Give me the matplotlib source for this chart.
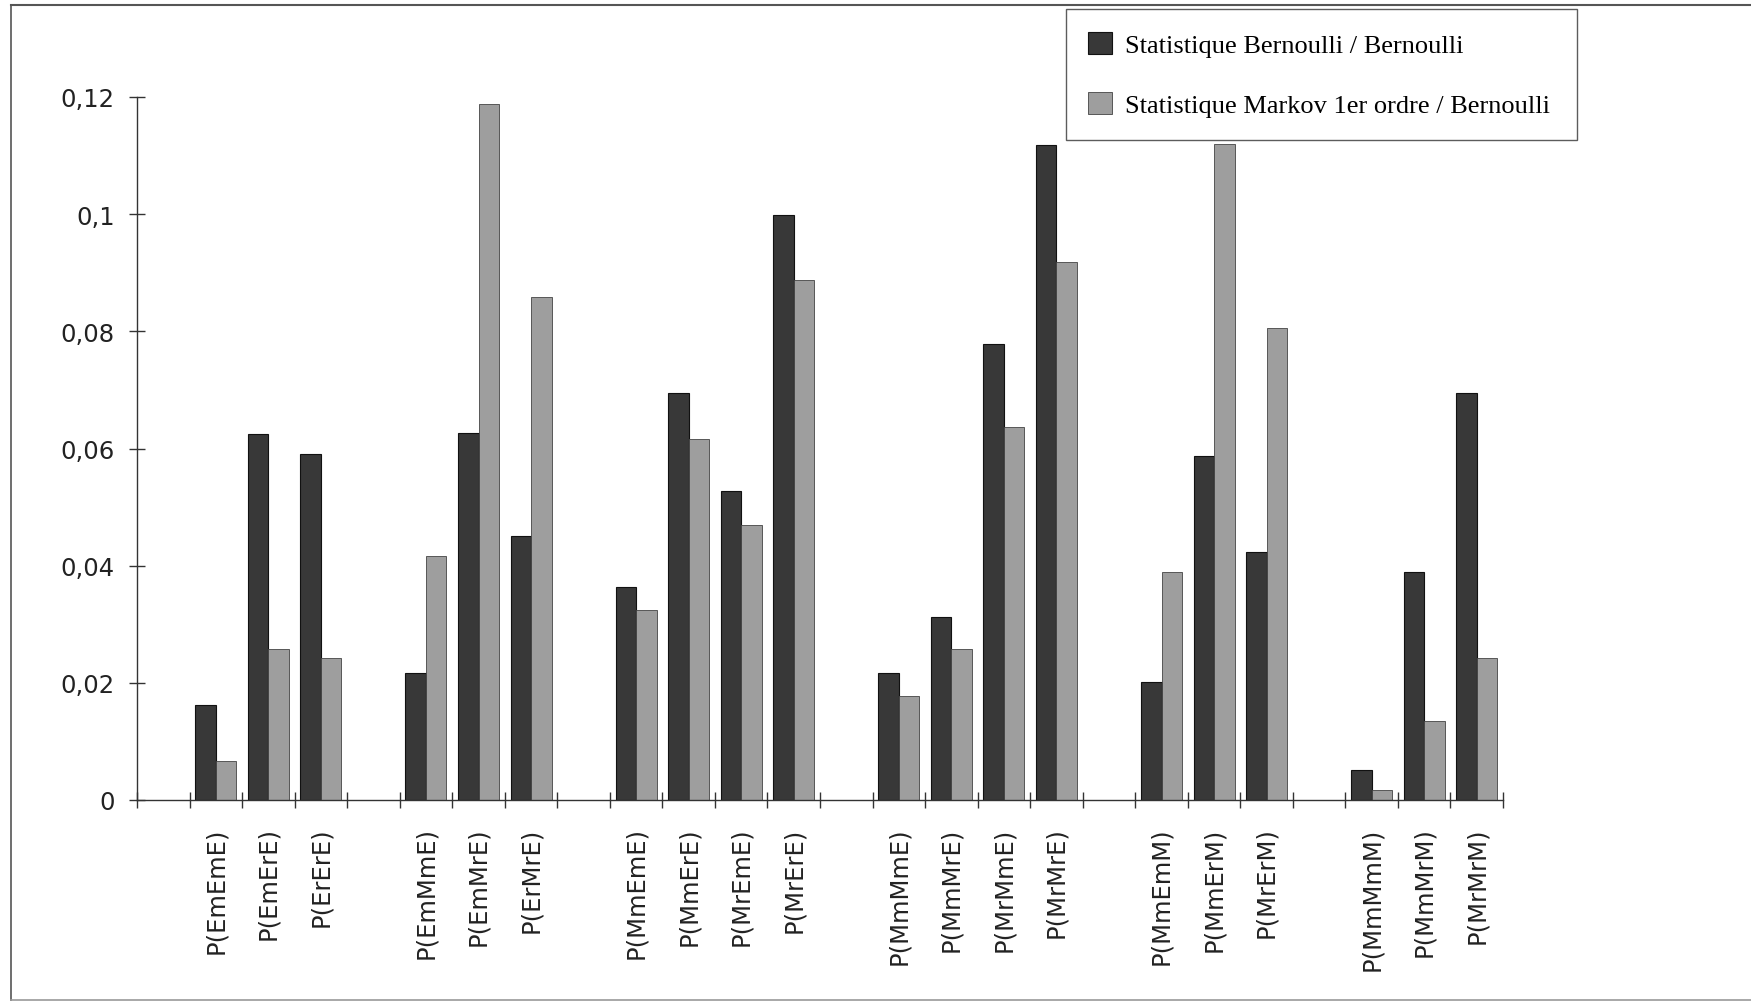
import matplotlib
matplotlib.use("Agg")
import matplotlib.pyplot as plt
import numpy as np
from matplotlib.lines import Line2D

groups = [
    ["P(EmEmE)", "P(EmErE)", "P(ErErE)"],
    ["P(EmMmE)", "P(EmMrE)", "P(ErMrE)"],
    ["P(MmEmE)", "P(MmErE)", "P(MrEmE)", "P(MrErE)"],
    ["P(MmMmE)", "P(MmMrE)", "P(MrMmE)", "P(MrMrE)"],
    ["P(MmEmM)", "P(MmErM)", "P(MrErM)"],
    ["P(MmMmM)", "P(MmMrM)", "P(MrMrM)"],
]
bernoulli = [0.0162, 0.0624, 0.0591,
             0.0216, 0.0626, 0.0450,
             0.0364, 0.0694, 0.0527, 0.0998,
             0.0217, 0.0313, 0.0778, 0.1118,
             0.0202, 0.0588, 0.0424,
             0.0052, 0.0389, 0.0694]
markov = [0.0067, 0.0258, 0.0242,
          0.0416, 0.1188, 0.0858,
          0.0324, 0.0616, 0.0469, 0.0887,
          0.0177, 0.0258, 0.0637, 0.0918,
          0.0389, 0.1120, 0.0805,
          0.0017, 0.0135, 0.0242]
series_names = ["Statistique Bernoulli / Bernoulli",
                "Statistique Markov 1er ordre / Bernoulli"]
yticks = [0, 0.02, 0.04, 0.06, 0.08, 0.1, 0.12]
ytick_labels = ["0", "0,02", "0,04", "0,06", "0,08", "0,1", "0,12"]

# positions: one empty slot before each group
labels, pos = [], []
slot = 0
for g in groups:
    slot += 1
    for lab in g:
        labels.append(lab)
        pos.append(slot + 0.5)
        slot += 1
nslots = slot
pos = np.array(pos)

W, H = 1751, 1003
fig = plt.figure(figsize=(W / 100, H / 100), dpi=100)
ax = fig.add_axes([137 / W, 1 - 801 / H, (1503 - 137) / W, (801 - 98) / H])

bw = 0.39
dark = "#383838"
light = "#9e9e9e"
ax.bar(pos - bw / 2, bernoulli, width=bw, color=dark, edgecolor="#111111", linewidth=0.8,
       label=series_names[0])
ax.bar(pos + bw / 2, markov, width=bw, color=light, edgecolor="#444444", linewidth=0.6,
       label=series_names[1])

ax.set_xlim(0, nslots)
ax.set_ylim(0, 0.12)
for s in ["top", "right"]:
    ax.spines[s].set_visible(False)
for s in ["left", "bottom"]:
    ax.spines[s].set_linewidth(1.0)
    ax.spines[s].set_color("#333333")

ax.set_yticks(yticks)
ax.set_yticklabels(ytick_labels, fontsize=17.5, family="DejaVu Sans", color="#222222")
ax.tick_params(axis="y", direction="inout", length=12, width=1.0, color="#333333", pad=10)

ax.set_xticks(np.arange(0, nslots + 1))
ax.set_xticklabels([])
ax.tick_params(axis="x", which="major", direction="inout", length=12, width=1.0, color="#333333")
ax.set_xticks(pos, minor=True)
ax.set_xticklabels(labels, minor=True, rotation=90, fontsize=17.5, family="DejaVu Sans",
                   color="#222222", va="top", ha="center")
ax.tick_params(axis="x", which="minor", length=0, pad=19)

leg = ax.legend(loc="center", bbox_to_anchor=(1066 / W, 1 - 142 / H, (1577 - 1066) / W, (142 - 9) / H),
                bbox_transform=fig.transFigure, mode="expand",
                prop={"family": "Liberation Serif", "size": 19},
                frameon=True, fancybox=False, edgecolor="#333333", handlelength=0.9,
                handleheight=0.9, labelspacing=1.35, borderpad=0.85, handletextpad=0.5,
                borderaxespad=0)
leg.get_frame().set_linewidth(1.0)

# outer frame
fig.add_artist(Line2D([11 / W, 11 / W], [1 - 6 / H, 1 - 1001 / H], transform=fig.transFigure,
                      color="#555555", linewidth=1.2))
fig.add_artist(Line2D([11 / W, 1], [1 - 6 / H, 1 - 6 / H], transform=fig.transFigure,
                      color="#555555", linewidth=1.5))
fig.add_artist(Line2D([11 / W, 1], [1 - 1001 / H, 1 - 1001 / H], transform=fig.transFigure,
                      color="#999999", linewidth=1.2))

fig.savefig("out.png", dpi=100, facecolor="white")
